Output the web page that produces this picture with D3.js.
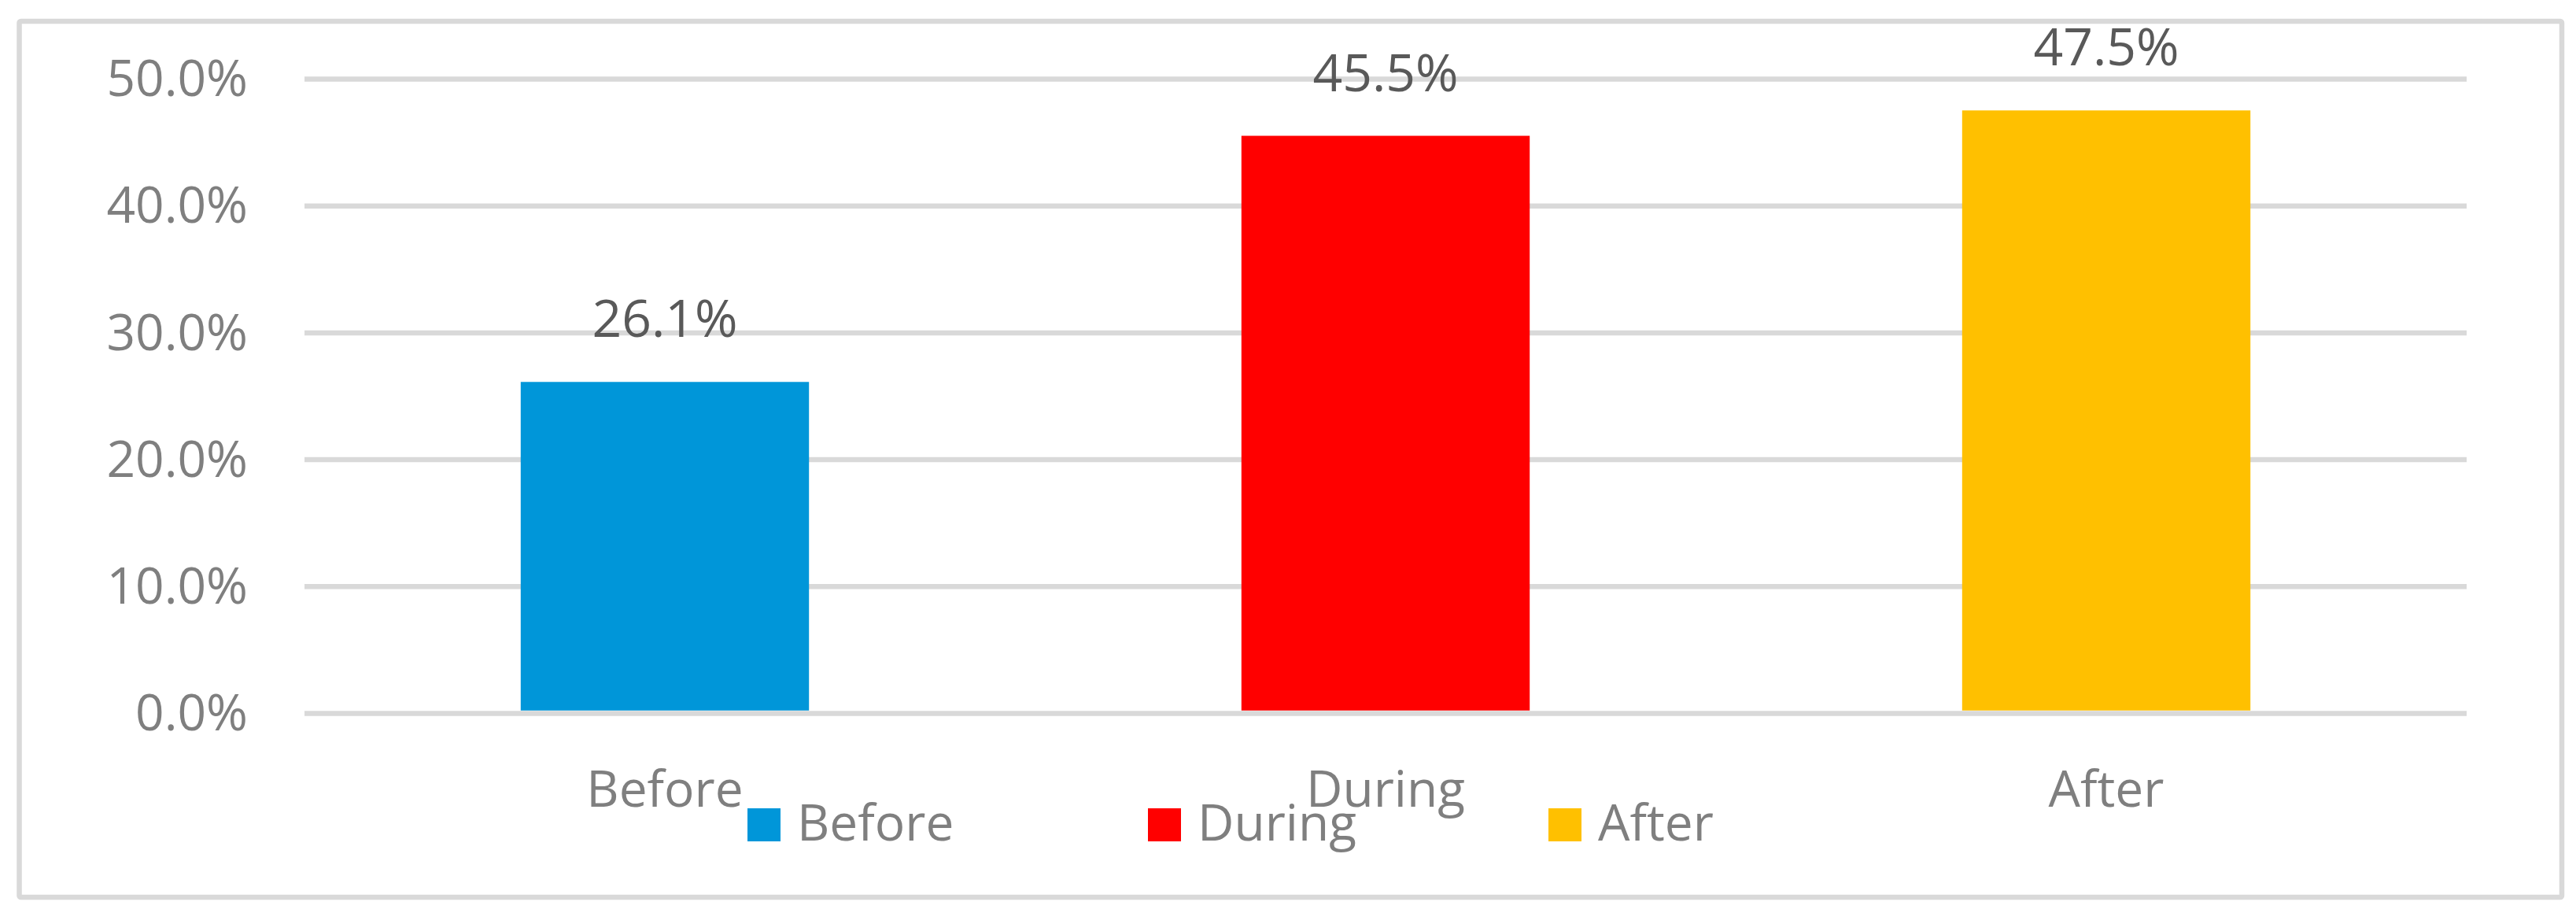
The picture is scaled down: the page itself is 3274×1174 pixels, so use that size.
<!DOCTYPE html>
<html>
<head>
<meta charset="utf-8">
<script src="https://cdn.jsdelivr.net/npm/d3@7"></script>
<style>
  body { margin: 0; background: #fff; }
  text { font-family: "Open Sans", sans-serif; }
</style>
</head>
<body>
<script>
var svgWidth = 3274;
var svgHeight = 1174;

// data
var categories = ["Before", "During", "After"];
var values = [26.1, 45.5, 47.5];
var yTicks = [0, 10, 20, 30, 40, 50];

var barColors = ["#0096d9", "#ff0000", "#ffc000"];

var plotLeft = 387, plotRight = 3135;
var plotTop = 100, plotBottom = 906;
var gridWidth = 6.5;

var svg = d3.select("body")
  .append("svg")
  .attr("width", svgWidth)
  .attr("height", svgHeight);

// chart area border
svg.append("rect")
  .attr("x", 24.5)
  .attr("y", 27)
  .attr("width", 3231.5)
  .attr("height", 1113)
  .attr("rx", 2)
  .attr("fill", "#fff")
  .attr("stroke", "#d9d9d9")
  .attr("stroke-width", gridWidth);

var xScale = d3.scaleBand()
  .domain(categories)
  .range([plotLeft, plotRight])
  .paddingInner(0.6)
  .paddingOuter(0.3);

var yScale = d3.scaleLinear()
  .domain([0, 50])
  .range([plotBottom, plotTop]);

// y axis with gridlines
var leftAxis = d3.axisLeft(yScale)
  .tickValues(yTicks)
  .tickSize(-(plotRight - plotLeft))
  .tickPadding(72)
  .tickFormat(d => d.toFixed(1) + "%");

var yGroup = svg.append("g")
  .attr("transform", `translate(${plotLeft},0)`)
  .call(leftAxis);

yGroup.select(".domain").remove();
yGroup.selectAll("line")
  .attr("stroke", "#d9d9d9")
  .attr("stroke-width", gridWidth);
yGroup.selectAll("text")
  .attr("dy", "0.34em")
  .style("font-size", "64px")
  .attr("fill", "#7f7f7f");

// bars
svg.selectAll(".bar")
  .data(values)
  .enter()
  .append("rect")
  .attr("class", "bar")
  .attr("x", (d, i) => xScale(categories[i]))
  .attr("y", d => yScale(d))
  .attr("width", xScale.bandwidth())
  .attr("height", d => yScale(0) - gridWidth / 2 - yScale(d))
  .attr("fill", (d, i) => barColors[i]);

// value labels
svg.selectAll(".val")
  .data(values)
  .enter()
  .append("text")
  .attr("class", "val")
  .attr("x", (d, i) => xScale(categories[i]) + xScale.bandwidth() / 2)
  .attr("y", d => yScale(d) - 57)
  .attr("text-anchor", "middle")
  .style("font-size", "66px")
  .attr("fill", "#595959")
  .text(d => d.toFixed(1) + "%");

// category axis
var botAxis = d3.axisBottom(xScale)
  .tickSize(0)
  .tickPadding(74);

var xGroup = svg.append("g")
  .attr("transform", `translate(0,${plotBottom})`)
  .call(botAxis);

xGroup.select(".domain").remove();
xGroup.selectAll("text")
  .style("font-size", "64px")
  .attr("fill", "#7f7f7f");

// legend
var legend = svg.selectAll(".legend")
  .data(categories)
  .enter()
  .append("g")
  .attr("class", "legend")
  .attr("transform", (d, i) => `translate(${950 + i * 509},1027)`);

legend.append("rect")
  .attr("width", 42)
  .attr("height", 42)
  .attr("fill", (d, i) => barColors[i]);

legend.append("text")
  .attr("x", 63)
  .attr("y", 41)
  .style("font-size", "64px")
  .attr("fill", "#7f7f7f")
  .text(d => d);
</script>
</body>
</html>
